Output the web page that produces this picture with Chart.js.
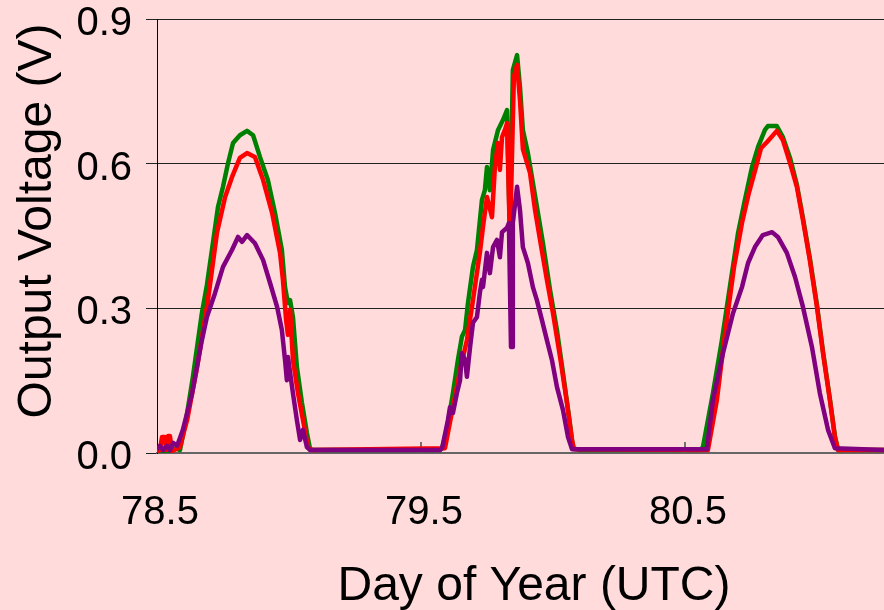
<!DOCTYPE html>
<html>
<head>
<meta charset="utf-8">
<title>Output Voltage</title>
<script src="https://cdn.jsdelivr.net/npm/chart.js@4/dist/chart.umd.min.js"></script>
<style>
    html, body { margin: 0; padding: 0; background: #FFDBDB; overflow: hidden; }
    #voltageChart { display: block; }
</style>
</head>
<body>
<canvas id="voltageChart" width="884" height="610"></canvas>
<script>
// Axis ticks
var xTicks = [78.5, 79.5, 80.5];
var yTicks = [0, 0.3, 0.6, 0.9];

// Green cell: day of year and output voltage
var greenDays = [
    78.500, 78.549, 78.572, 78.587, 78.610, 78.636, 78.670, 78.689, 78.708, 78.731,
    78.750, 78.769, 78.788, 78.814, 78.841, 78.864, 78.890, 78.920, 78.947, 78.973,
    78.985, 78.996, 79.004, 79.015, 79.030, 79.049, 79.068, 79.080, 79.098,
    79.572, 79.580, 79.598, 79.621, 79.640, 79.655, 79.667, 79.678, 79.697, 79.712,
    79.731, 79.742, 79.750, 79.761, 79.773, 79.792, 79.811, 79.826, 79.837, 79.848,
    79.864, 79.875, 79.886, 79.905, 79.924, 79.943, 79.962, 79.989, 80.015, 80.038,
    80.064, 80.076, 80.102,
    80.557, 80.568, 80.606, 80.640, 80.670, 80.701, 80.727, 80.754, 80.777, 80.803,
    80.814, 80.848, 80.871, 80.898, 80.924, 80.947, 80.973, 81.000, 81.023, 81.049,
    81.068, 81.080, 81.254
];
var greenVolts = [
    0.004, 0.004, 0.010, 0.006, 0.068, 0.158, 0.290, 0.348, 0.421, 0.510,
    0.552, 0.601, 0.643, 0.659, 0.668, 0.659, 0.614, 0.566, 0.498, 0.421,
    0.344, 0.311, 0.317, 0.282, 0.178, 0.104, 0.041, 0.008, 0.006,
    0.006, 0.010, 0.048, 0.124, 0.193, 0.241, 0.255, 0.311, 0.386, 0.421,
    0.525, 0.545, 0.593, 0.545, 0.628, 0.670, 0.691, 0.711, 0.450, 0.794,
    0.825, 0.759, 0.670, 0.622, 0.560, 0.498, 0.435, 0.338, 0.255, 0.166,
    0.062, 0.010, 0.006,
    0.006, 0.012, 0.124, 0.234, 0.344, 0.456, 0.525, 0.593, 0.635, 0.670,
    0.678, 0.678, 0.655, 0.612, 0.556, 0.487, 0.404, 0.307, 0.210, 0.112,
    0.035, 0.006, 0.006
];

// Red cell
var redDays = [
    78.500, 78.511, 78.519, 78.530, 78.534, 78.542, 78.549, 78.557, 78.587, 78.602,
    78.614, 78.652, 78.693, 78.727, 78.758, 78.784, 78.814, 78.841, 78.871, 78.902,
    78.936, 78.966, 78.977, 78.989, 78.996, 79.004, 79.015, 79.034, 79.053, 79.072,
    79.087,
    79.591, 79.621, 79.648, 79.674, 79.697, 79.723, 79.735, 79.750, 79.769, 79.780,
    79.792, 79.799, 79.807, 79.818, 79.826, 79.837, 79.852, 79.864, 79.875, 79.886,
    79.913, 79.932, 79.951, 79.977, 80.000, 80.027, 80.053, 80.072, 80.080,
    80.587, 80.621, 80.652, 80.686, 80.716, 80.742, 80.769, 80.788, 80.811, 80.848,
    80.871, 80.898, 80.924, 80.947, 80.973, 81.000, 81.023, 81.049, 81.068, 81.080,
    81.254
];
var redVolts = [
    0.004, 0.006, 0.033, 0.033, 0.006, 0.035, 0.035, 0.004, 0.012, 0.044,
    0.068, 0.178, 0.317, 0.456, 0.531, 0.572, 0.612, 0.622, 0.614, 0.566,
    0.498, 0.415, 0.359, 0.276, 0.245, 0.297, 0.193, 0.124, 0.068, 0.012,
    0.006,
    0.010, 0.095, 0.172, 0.234, 0.317, 0.415, 0.469, 0.531, 0.489, 0.593,
    0.643, 0.587, 0.655, 0.670, 0.684, 0.442, 0.780, 0.805, 0.732, 0.630,
    0.581, 0.504, 0.442, 0.359, 0.290, 0.199, 0.104, 0.027, 0.008,
    0.006, 0.110, 0.249, 0.386, 0.477, 0.539, 0.593, 0.632, 0.645, 0.668,
    0.649, 0.601, 0.552, 0.483, 0.400, 0.303, 0.207, 0.110, 0.033, 0.006,
    0.006
];

// Purple cell
var purpleDays = [
    78.500, 78.511, 78.523, 78.538, 78.549, 78.561, 78.576, 78.587, 78.598, 78.633,
    78.670, 78.689, 78.720, 78.750, 78.784, 78.807, 78.822, 78.841, 78.871, 78.902,
    78.928, 78.955, 78.973, 78.985, 78.992, 78.996, 79.015, 79.030, 79.042, 79.053,
    79.068, 79.080,
    79.572, 79.580, 79.602, 79.610, 79.621, 79.636, 79.648, 79.655, 79.667, 79.674,
    79.686, 79.697, 79.712, 79.723, 79.731, 79.735, 79.750, 79.761, 79.773, 79.788,
    79.799, 79.807, 79.826, 79.833, 79.841, 79.845, 79.848, 79.864, 79.875, 79.886,
    79.905, 79.924, 79.939, 79.958, 79.977, 79.996, 80.015, 80.038, 80.057, 80.072,
    80.583, 80.606, 80.644, 80.682, 80.716, 80.739, 80.765, 80.795, 80.830, 80.852,
    80.886, 80.917, 80.947, 80.981, 81.011, 81.042, 81.068, 81.254
];
var purpleVolts = [
    0.008, 0.015, 0.006, 0.015, 0.006, 0.021, 0.015, 0.031, 0.048, 0.124,
    0.234, 0.282, 0.332, 0.386, 0.421, 0.448, 0.438, 0.452, 0.435, 0.400,
    0.353, 0.303, 0.255, 0.193, 0.151, 0.199, 0.124, 0.068, 0.027, 0.048,
    0.012, 0.006,
    0.006, 0.010, 0.068, 0.095, 0.083, 0.124, 0.151, 0.207, 0.193, 0.158,
    0.220, 0.270, 0.282, 0.332, 0.359, 0.344, 0.415, 0.373, 0.427, 0.442,
    0.406, 0.458, 0.467, 0.477, 0.220, 0.220, 0.477, 0.552, 0.504, 0.427,
    0.394, 0.344, 0.317, 0.276, 0.234, 0.193, 0.137, 0.089, 0.033, 0.008,
    0.008, 0.110, 0.207, 0.290, 0.344, 0.394, 0.427, 0.452, 0.458, 0.448,
    0.415, 0.365, 0.303, 0.220, 0.124, 0.048, 0.010, 0.006
];

var bgColor = '#FFDBDB';
var fontFamily = '"Liberation Sans", Arial, sans-serif';

// Turn the day / volt arrays into {x, y} points
function toPoints(days, volts) {
    return days.map(function(d, i) {
        return { x: d, y: volts[i] };
    });
}

function makeDataset(label, days, volts, color, order) {
    return {
        label: label,
        data: toPoints(days, volts),
        borderColor: color,
        backgroundColor: color,
        borderWidth: 4.5,
        borderJoinStyle: 'round',
        pointRadius: 0,
        tension: 0,
        fill: false,
        order: order
    };
}

// Short tick marks on the x axis pointing up into the plot
var innerTicks = {
    id: 'innerTicks',
    beforeDatasetsDraw: function(chart) {
        var ctx = chart.ctx;
        var xScale = chart.scales.x;
        var area = chart.chartArea;
        ctx.save();
        ctx.strokeStyle = '#707070';
        ctx.lineWidth = 2;
        xScale.ticks.forEach(function(t) {
            var px = Math.round(xScale.getPixelForValue(t.value));
            if (px <= area.left + 2) return;
            ctx.beginPath();
            ctx.moveTo(px, area.bottom);
            ctx.lineTo(px, area.bottom - 11);
            ctx.stroke();
        });
        ctx.restore();
    }
};

// Axis titles
var axisTitles = {
    id: 'axisTitles',
    afterDraw: function(chart) {
        var ctx = chart.ctx;
        ctx.save();
        ctx.fillStyle = '#000';
        ctx.font = '48px ' + fontFamily;
        ctx.textAlign = 'center';
        ctx.textBaseline = 'alphabetic';
        ctx.fillText('Day of Year (UTC)', 534, 600);
        ctx.translate(51, 221);
        ctx.rotate(-Math.PI / 2);
        ctx.fillText('Output Voltage (V)', 0, 0);
        ctx.restore();
    }
};

var ctx = document.getElementById('voltageChart').getContext('2d');
var voltageChart = new Chart(ctx, {
    type: 'line',
    data: {
        datasets: [
            makeDataset('Cell 1', greenDays, greenVolts, '#008000', 3),
            makeDataset('Cell 2', redDays, redVolts, '#FF0000', 2),
            makeDataset('Cell 3', purpleDays, purpleVolts, '#800080', 1)
        ]
    },
    options: {
        responsive: false,
        animation: false,
        events: [],
        layout: {
            padding: { top: 19, left: 0, right: 0, bottom: 0 }
        },
        plugins: {
            legend: { display: false },
            tooltip: { enabled: false }
        },
        scales: {
            x: {
                type: 'linear',
                min: 78.5,
                max: 81.254,
                afterBuildTicks: function(scale) {
                    scale.ticks = xTicks.map(function(v) { return { value: v }; });
                },
                afterFit: function(scale) {
                    scale.height = 157;
                    scale.paddingLeft = 0;
                    scale.paddingRight = 0;
                },
                grid: { display: false, drawTicks: false },
                border: { display: true, color: '#666666', width: 2 },
                ticks: {
                    color: '#000',
                    padding: 36,
                    labelOffset: 3,
                    maxRotation: 0,
                    autoSkip: false,
                    font: { family: fontFamily, size: 40 },
                    callback: function(v) { return v.toFixed(1); }
                }
            },
            y: {
                min: 0,
                max: 0.9,
                afterBuildTicks: function(scale) {
                    scale.ticks = yTicks.map(function(v) { return { value: v }; });
                },
                afterFit: function(scale) {
                    scale.width = 157;
                    scale.paddingTop = 0;
                    scale.paddingBottom = 0;
                },
                grid: {
                    color: '#222222',
                    lineWidth: 1,
                    drawTicks: true,
                    tickLength: 11
                },
                border: { display: true, color: '#000', width: 1 },
                ticks: {
                    color: '#000',
                    padding: 14,
                    labelOffset: 5,
                    font: { family: fontFamily, size: 40 },
                    callback: function(v) { return v.toFixed(1); }
                }
            }
        }
    },
    plugins: [innerTicks, axisTitles]
});
</script>
</body>
</html>
